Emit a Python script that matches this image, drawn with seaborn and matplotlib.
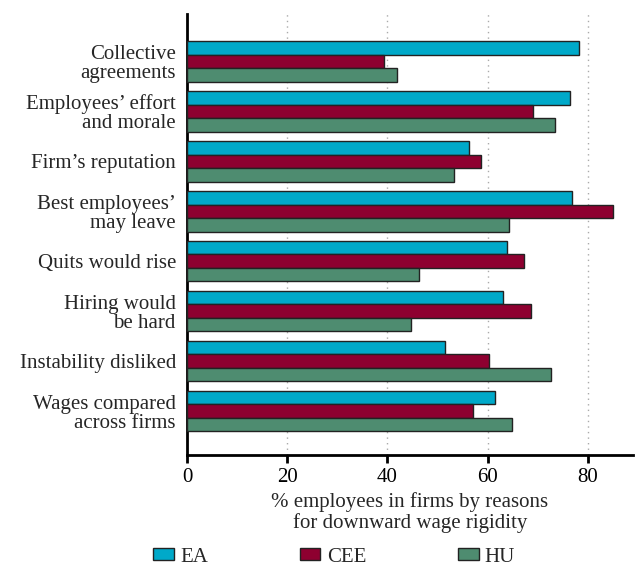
import pandas as pd
import matplotlib.pyplot as plt
import seaborn as sns

sns.set_style("white")
plt.rcParams['font.family'] = ['Liberation Serif', 'DejaVu Serif']

reasons = [
    "Collective\nagreements",
    "Employees\u2019 effort\nand morale",
    "Firm\u2019s reputation",
    "Best employees\u2019\nmay leave",
    "Quits would rise",
    "Hiring would\nbe hard",
    "Instability disliked",
    "Wages compared\nacross firms",
]
ea = [78.3, 76.5, 56.3, 76.8, 63.9, 63.0, 51.4, 61.4]
cee = [39.3, 69.1, 58.7, 85.1, 67.3, 68.7, 60.3, 57.1]
hu = [41.9, 73.5, 53.2, 64.3, 46.3, 44.7, 72.7, 64.9]
series = ["EA", "CEE", "HU"]
colors = ["#00A9C9", "#8E0030", "#4E8C70"]

df = pd.DataFrame({
    "reason": reasons * 3,
    "value": ea + cee + hu,
    "group": [s for s in series for _ in reasons],
})

fig = plt.figure(figsize=(6.37, 5.71), dpi=100)
ax = fig.add_axes([187 / 637, 1 - 455 / 571, (633 - 187) / 637, (455 - 14) / 571])

sns.barplot(data=df, y="reason", x="value", hue="group", orient="h",
            palette=colors, saturation=1, width=0.81, edgecolor="#222222",
            linewidth=1, ax=ax, legend=True, zorder=3)

ax.set_xlim(0, 89)
ax.set_ylim(7.88, -0.95)
ax.set_xticks([0, 20, 40, 60, 80])
for x in [20, 40, 60, 80]:
    ax.axvline(x, color="#aaaaaa", linestyle=(0, (1, 3)), linewidth=1, zorder=0)

for side in ["top", "right"]:
    ax.spines[side].set_visible(False)
for side in ["left", "bottom"]:
    ax.spines[side].set_linewidth(2)
    ax.spines[side].set_color("black")

ax.tick_params(axis="x", direction="out", length=6, width=2, labelsize=15,
               bottom=True, pad=3, colors="black")
ax.tick_params(axis="y", length=0, labelsize=15, pad=8)
for t in ax.get_yticklabels():
    t.set_linespacing(1.0)
ax.set_ylabel("")
ax.set_xlabel("% employees in firms by reasons\nfor downward wage rigidity",
              fontsize=15, labelpad=4, linespacing=1.05)

handles, labels = ax.get_legend_handles_labels()
ax.get_legend().remove()
fig.legend(handles, labels, ncol=3, loc="center left",
           bbox_to_anchor=(153 / 637, 1 - 557 / 571), frameon=False,
           fontsize=15, handlelength=1.0, handleheight=0.55, handletextpad=0.3,
           columnspacing=4.4, borderaxespad=0, borderpad=0)

fig.savefig("out.png", dpi=100)
